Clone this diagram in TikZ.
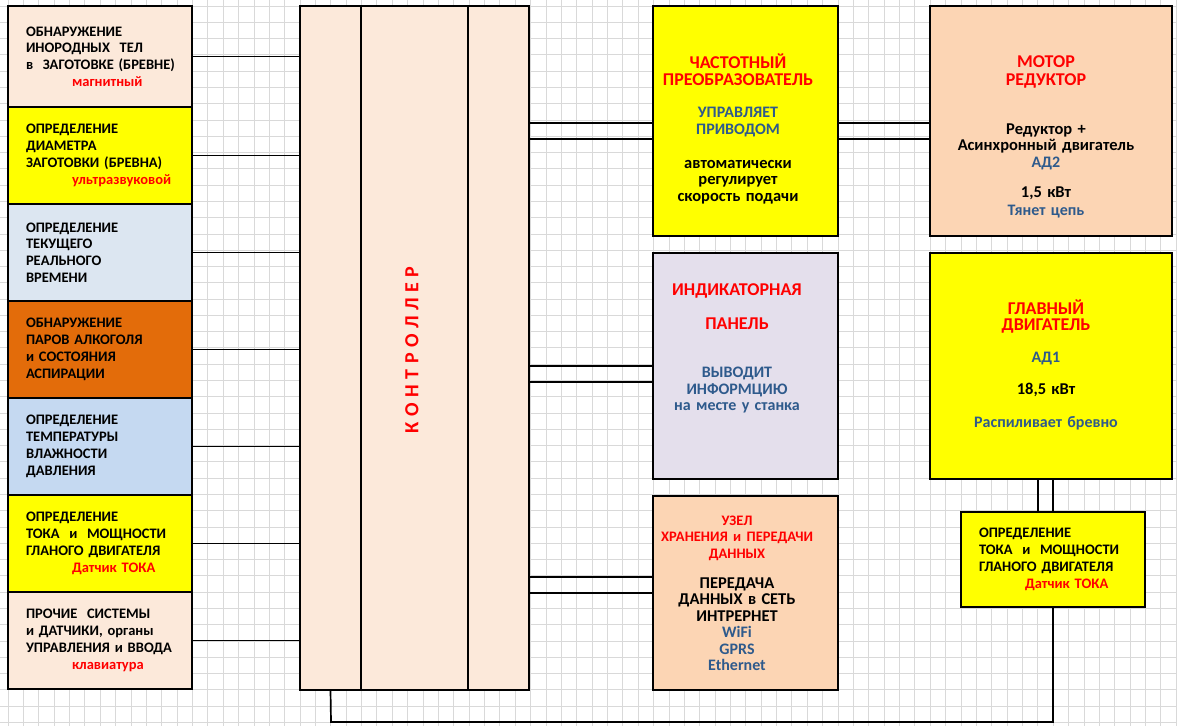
\documentclass[tikz,border=0pt]{standalone}
\usepackage{fontspec}
\setmainfont{Carlito}
\usepackage{tikz}
\usetikzlibrary{calc, positioning}
\definecolor{peach}{HTML}{FCE9DA}
\definecolor{salmon}{HTML}{FCD5B4}
\definecolor{bluegray}{HTML}{DCE6F1}
\definecolor{skyblue}{HTML}{C5D9F1}
\definecolor{rust}{HTML}{E36C0A}
\definecolor{lavender}{HTML}{E4DFEC}
\definecolor{lemon}{HTML}{FFFF00}
\definecolor{txtblue}{HTML}{2E5A8C}
\definecolor{gridgray}{HTML}{D9D9D9}
\newcommand{\bodysz}{\fontsize{14.5}{16.8}\selectfont}
\newcommand{\unitsz}{\fontsize{16}{16.5}\selectfont}
\newcommand{\hdr}{\fontsize{18}{16.5}\selectfont\color{red}}
\newcommand{\sred}{\fontsize{14.5}{16.5}\selectfont\color{red}}
\newcommand{\blu}{\fontsize{16}{16.5}\selectfont\color{txtblue}}
\newcommand{\blk}{\fontsize{16.5}{16.5}\selectfont\color{black}}
\newcommand{\redln}[1]{\hspace*{46pt}\textcolor{red}{#1}}
\newcommand{\ctrlfont}{\bfseries\fontsize{20}{22}\selectfont\spaceskip 5.5pt\relax}
\tikzset{
  gridln/.style  ={draw=gridgray, line width=0.8pt},
  sensbox/.style ={draw, line width=1.7pt, outer sep=0pt, anchor=north west, minimum height=97pt,
                   text width=148pt, inner xsep=18pt, inner ysep=0pt, align=left, font=\bfseries\bodysz},
  ctrlbox/.style ={draw, line width=1.7pt, outer sep=0pt, anchor=north west, minimum height=684pt,
                   fill=peach, inner sep=0pt},
  unitbox/.style ={draw, line width=1.7pt, outer sep=0pt, anchor=north west, minimum width=185pt, inner sep=0pt},
  unittxt/.style ={text width=220pt, align=center, inner sep=0pt, font=\bfseries\unitsz},
  ctrltxt/.style ={rotate=90, text=red, inner sep=0pt, font=\ctrlfont},
  link/.style    ={line width=1.7pt},
}

\begin{document}
\begin{tikzpicture}[x=1pt, y=-1pt]
  \useasboundingbox (0,0) rectangle (1177,726);
  \fill[white] (0,0) rectangle (1177,726);
  % sheet grid
  \foreach \i in {0,...,76}
    \draw[gridln] (8+\i*15.37,0) -- (8+\i*15.37,726);
  \foreach \j in {0,...,44}
    \draw[gridln] (0,6+\j*16.28) -- (1177,6+\j*16.28);

  % LEFT: sensors
  \node[sensbox, fill=peach, minimum height=101pt] (metal) at (8,6)
    {ОБНАРУЖЕНИЕ\\ИНОРОДНЫХ\ \ ТЕЛ\\\mbox{в\ \ ЗАГОТОВКЕ (БРЕВНЕ)}\\\redln{магнитный}};
  \node[sensbox, fill=lemon] (diam) at (8,107)
    {ОПРЕДЕЛЕНИЕ\\ДИАМЕТРА\\\mbox{ЗАГОТОВКИ (БРЕВНА)}\\\redln{ультразвуковой}};
  \node[sensbox, fill=bluegray] (clock) at (8,204)
    {ОПРЕДЕЛЕНИЕ\\ТЕКУЩЕГО\\РЕАЛЬНОГО\\ВРЕМЕНИ};
  \node[sensbox, fill=rust] (alco) at (8,301)
    {ОБНАРУЖЕНИЕ\\ПАРОВ АЛКОГОЛЯ\\и СОСТОЯНИЯ\\АСПИРАЦИИ};
  \node[sensbox, fill=skyblue] (climate) at (8,398)
    {ОПРЕДЕЛЕНИЕ\\ТЕМПЕРАТУРЫ\\ВЛАЖНОСТИ\\ДАВЛЕНИЯ};
  \node[sensbox, fill=lemon] (curr) at (8,495)
    {ОПРЕДЕЛЕНИЕ\\\mbox{ТОКА\ \ и\ \ МОЩНОСТИ}\\\mbox{ГЛАНОГО ДВИГАТЕЛЯ}\\\redln{Датчик ТОКА}};
  \node[sensbox, fill=peach] (misc) at (8,592)
    {ПРОЧИЕ\ \ СИСТЕМЫ\\и ДАТЧИКИ, органы\\\mbox{УПРАВЛЕНИЯ и ВВОДА}\\\redln{клавиатура}};

  % CENTRE: controller
  \node[ctrlbox, minimum width=61pt]  (ctrlL) at (300,6) {};
  \node[ctrlbox, minimum width=107pt] (ctrlM) at (361,6) {};
  \node[ctrlbox, minimum width=61pt]  (ctrlR) at (468,6) {};
  \node[ctrltxt] (ctrlname) at (412,350) {К О Н Т Р О Л Л Е Р};

  % RIGHT: units
  \node[unitbox, fill=lemon, minimum height=230pt] (freq) at (653,6) {};
  \node[unitbox, fill=salmon, minimum width=242pt, minimum height=230pt] (motor) at (930,6) {};
  \node[unitbox, fill=lavender, minimum height=226pt] (indic) at (653,253) {};
  \node[unitbox, fill=lemon, minimum width=242pt, minimum height=226pt] (main) at (930,253) {};
  \node[unitbox, fill=salmon, minimum height=194pt] (data) at (653,496) {};
  \node[sensbox, fill=lemon, minimum height=95pt] (sens) at (961,512)
    {ОПРЕДЕЛЕНИЕ\\\mbox{ТОКА\ \ и\ \ МОЩНОСТИ}\\\mbox{ГЛАНОГО ДВИГАТЕЛЯ}\\\redln{Датчик ТОКА}};

  \node[unittxt] (freqtxt) at (738,129)
    {\hdr ЧАСТОТНЫЙ\\ПРЕОБРАЗОВАТЕЛЬ\\[16pt]\blu УПРАВЛЯЕТ\\ПРИВОДОМ\\[17.5pt]
     \blk автоматически\\регулирует\\скорость подачи};
  \node[unittxt] (motortxt) at (1046,136.5)
    {\hdr МОТОР\\[1.5pt]РЕДУКТОР\\[32.5pt]\blk Редуктор +\\Асинхронный двигатель\\\blu АД2\\[13.5pt]
     \blk 1,5 кВт\\[1.5pt]\blu Тянет цепь};
  \node[unittxt] (indictxt) at (737,348.5)
    {\hdr ИНДИКАТОРНАЯ\\[17.5pt]ПАНЕЛЬ\\[31.5pt]\blu ВЫВОДИТ\\ИНФОРМЦИЮ\\на месте у станка};
  \node[unittxt] (maintxt) at (1046,365)
    {\hdr ГЛАВНЫЙ\\ДВИГАТЕЛЬ\\[15.5pt]\blu АД1\\[15.5pt]\blk 18,5 кВт\\[16.5pt]\blu Распиливает бревно};
  \node[unittxt] (datatxt) at (737,593.5)
    {\sred УЗЕЛ\\ХРАНЕНИЯ и ПЕРЕДАЧИ\\ДАННЫХ\\[13.5pt]\blk ПЕРЕДАЧА\\ДАННЫХ в СЕТЬ\\ИНТРЕРНЕТ\\
     \blu WiFi\\GPRS\\Ethernet};

  % links sensors -> controller
  \draw[link] (metal.east) -- (metal.east -| ctrlL.west);
  \draw[link] (diam.east) -- (diam.east -| ctrlL.west);
  \draw[link] (clock.east) -- (clock.east -| ctrlL.west);
  \draw[link] (alco.east) -- (alco.east -| ctrlL.west);
  \draw[link] (climate.east) -- (climate.east -| ctrlL.west);
  \draw[link] (curr.east) -- (curr.east -| ctrlL.west);
  \draw[link] (misc.east) -- (misc.east -| ctrlL.west);

  % double links controller -> units
  \draw[link] ($(freq.west -| ctrlR.east)+(0,2)$) -- ($(freq.west)+(0,2)$);
  \draw[link] ($(freq.west -| ctrlR.east)+(0,18)$) -- ($(freq.west)+(0,18)$);
  \draw[link] ($(freq.east)+(0,2)$) -- ($(freq.east -| motor.west)+(0,2)$);
  \draw[link] ($(freq.east)+(0,18)$) -- ($(freq.east -| motor.west)+(0,18)$);
  \draw[link] (indic.west -| ctrlR.east) -- (indic.west);
  \draw[link] ($(indic.west -| ctrlR.east)+(0,16)$) -- ($(indic.west)+(0,16)$);
  \draw[link] ($(data.west -| ctrlR.east)+(0,-16)$) -- ($(data.west)+(0,-16)$);
  \draw[link] (data.west -| ctrlR.east) -- (data.west);

  % main motor -> current sensor -> back to controller
  \draw[link] (sens.north) -- (sens.north |- main.south);
  \draw[link] ($(sens.north)+(-15,0)$) -- ($(sens.north |- main.south)+(-15,0)$);
  \coordinate (bus) at (331,722);
  \draw[link] (sens.south) |- (bus) -- (ctrlL.south);
\end{tikzpicture}
\end{document}
